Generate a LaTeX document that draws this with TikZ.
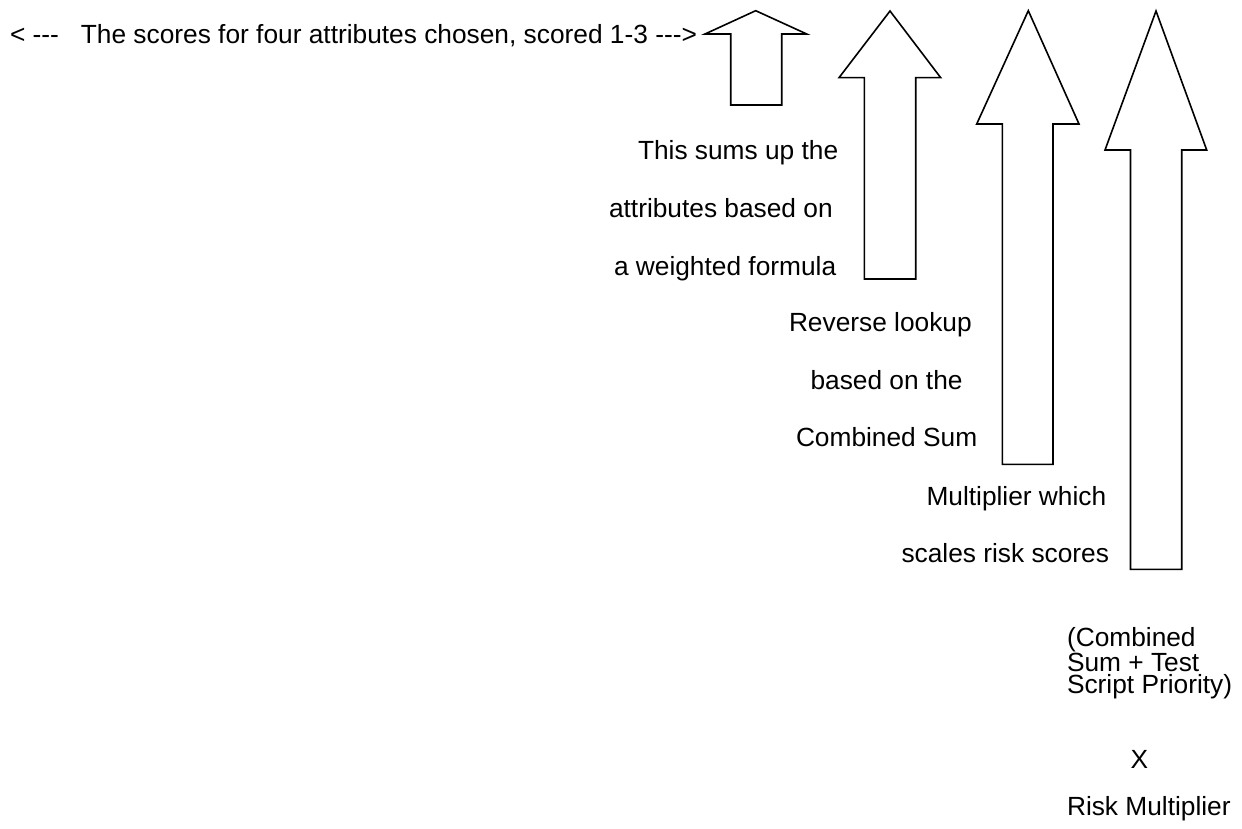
\documentclass[tikz,border=0pt]{standalone}
\usepackage{fontspec}
\setmainfont{Liberation Sans}[Ligatures=TeXOff]
\begin{document}
\begin{tikzpicture}[x=1pt,y=-1pt]
\tikzset{
  blockarrow/.style={draw=black, line width=1.6pt, line join=miter, fill=white},
  lbl/.style={inner sep=0pt, outer sep=0pt, anchor=base west,
              font=\fontsize{26.3}{21.7}\selectfont},
}
% page frame
\useasboundingbox (0,0) rectangle (1242,829);

% block arrows pointing up: tip, head corners, shaft
\draw[blockarrow] (755.7,10.7) -- (806.7,34) -- (781.7,34) -- (781.7,105)
  -- (730.7,105) -- (730.7,34) -- (705,34) -- cycle;
\draw[blockarrow] (890,11) -- (940.7,77.7) -- (915.7,77.7) -- (915.7,279)
  -- (864.3,279) -- (864.3,77.7) -- (839,77.7) -- cycle;
\draw[blockarrow] (1028.3,10.7) -- (1079,124) -- (1053,124) -- (1053,464.3)
  -- (1002.3,464.3) -- (1002.3,124) -- (976.7,124) -- cycle;
\draw[blockarrow] (1156,11) -- (1206.7,150) -- (1181.7,150) -- (1181.7,569.3)
  -- (1130.5,569.3) -- (1130.5,150) -- (1105,150) -- cycle;

% heading line
\node[lbl] (head) at (10,44) {< ---\ \ \ The scores for four attributes chosen, scored 1-3 --->};

% weighted sum
\node[lbl] (ws1) at (638,160) {This sums up the};
\node[lbl] (ws2) at (609,217.5) {attributes based on};
\node[lbl] (ws3) at (614,275) {a weighted formula};

% reverse lookup
\node[lbl] (rl1) at (789,331.5) {Reverse lookup};
\node[lbl] (rl2) at (810.5,389) {based on the};
\node[lbl] (rl3) at (796,446.5) {Combined Sum};

% risk multiplier
\node[lbl] (rm1) at (926.5,505) {Multiplier which};
\node[lbl] (rm2) at (901.5,562) {scales risk scores};

% final formula, set with tight leading (base = last line)
\node[lbl, align=left] (f1) at (1067,693.3) {(Combined\\Sum + Test\\Script Priority)};
\node[lbl, anchor=base] (fx) at (1139.5,768) {X};
\node[lbl] (f4) at (1067,815) {Risk Multiplier};
\end{tikzpicture}
\end{document}
